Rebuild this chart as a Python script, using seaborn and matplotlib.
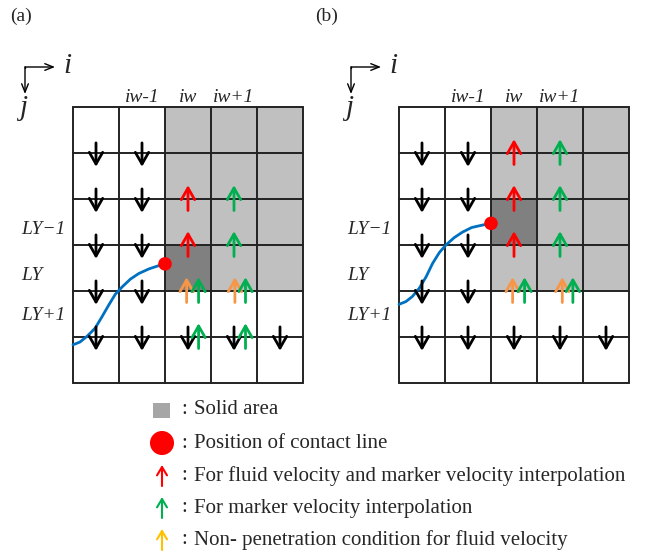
import numpy as np
import pandas as pd
import matplotlib.pyplot as plt
import seaborn as sns
from matplotlib.patches import Rectangle

# grid: 5 columns x 6 rows of square cells, one grid per panel
n_cols, n_rows = 5, 6
cell = 46
origin_x = {'a': 73, 'b': 399}
origin_y = 107

solid_cols = [2, 3, 4]
solid_rows = [0, 1, 2, 3]
dark_cell = {'a': (2, 3), 'b': (2, 2)}

col_labels = ['iw-1', 'iw', 'iw+1']
col_label_pos = [1.5, 2.5, 3.5]
row_labels = ['LY\u22121', 'LY', 'LY+1']
row_label_y = [230, 275, 315]

# contact line shape (cell units)
curve_a_x = [0, 0.15, 0.30, 0.48, 0.63, 0.78, 0.92, 1.07, 1.25, 1.43, 1.65, 1.86, 2.0]
curve_a_y = [5.17, 5.11, 4.99, 4.81, 4.56, 4.30, 4.07, 3.91, 3.74, 3.62, 3.52, 3.45, 3.41]
curve_b_x = [0, 0.15, 0.29, 0.44, 0.59, 0.73, 0.88, 1.02, 1.20, 1.38, 1.58, 1.80, 2.0]
curve_b_y = [4.29, 4.23, 4.12, 3.94, 3.69, 3.40, 3.16, 3.00, 2.84, 2.72, 2.62, 2.57, 2.53]

# velocity arrows: x in cells, grid line index
black_a_x = [0.5] * 5 + [1.5] * 5 + [2.5, 3.5, 4.5]
black_a_line = [1, 2, 3, 4, 5] * 2 + [5, 5, 5]
red_a_x = [2.5, 2.5]
red_a_line = [2, 3]
green_a_x = [3.5, 3.5, 2.73, 3.75, 2.73, 3.75]
green_a_line = [2, 3, 4, 4, 5, 5]
orange_a_x = [2.47, 3.52]
orange_a_line = [4, 4]

black_b_x = [0.5] * 5 + [1.5] * 5 + [2.5, 3.5, 4.5]
black_b_line = [1, 2, 3, 4, 5] * 2 + [5, 5, 5]
red_b_x = [2.5, 2.5, 2.5]
red_b_line = [1, 2, 3]
green_b_x = [3.5, 3.5, 3.5, 2.73, 3.78]
green_b_line = [1, 2, 3, 4, 4]
orange_b_x = [2.47, 3.55]
orange_b_line = [4, 4]

legend_texts = ['Solid area', 'Position of contact line',
                'For fluid velocity and marker velocity interpolation',
                'For marker velocity interpolation',
                'Non- penetration condition for fluid velocity']
legend_y = [410, 443, 476, 508, 540]

RED = '#FF0000'
GREEN = '#00B050'
ORANGE = '#F79646'
GOLD = '#FFC000'
BLUE = '#0070C0'

sns.set_theme(style='white')
plt.rcParams['font.family'] = ['Liberation Serif', 'DejaVu Serif']

fig = plt.figure(figsize=(6.45, 5.56), dpi=100)
ax = fig.add_axes([0, 0, 1, 1])
ax.set_xlim(0, 645)
ax.set_ylim(556, 0)
ax.axis('off')


def arrow(x0, y0, x1, y1, color, lw=2.0, hl=0.7, hw=0.4):
    ax.annotate('', xy=(x1, y1), xytext=(x0, y0),
                arrowprops=dict(arrowstyle='->,head_length=%s,head_width=%s' % (hl, hw),
                                color=color, lw=lw, shrinkA=0, shrinkB=0))


def panel(key, curve_x, curve_y, black, red, green, orange, tag):
    ox = origin_x[key]
    px = lambda c: ox + c * cell
    py = lambda r: origin_y + r * cell

    for c in solid_cols:
        for r in solid_rows:
            ax.add_patch(Rectangle((px(c), py(r)), cell, cell, color='#C0C0C0', lw=0))
    dc, dr = dark_cell[key]
    ax.add_patch(Rectangle((px(dc), py(dr)), cell, cell, color='#808080', lw=0))

    for c in range(n_cols + 1):
        ax.plot([px(c), px(c)], [py(0), py(n_rows)], color='#222222', lw=1.4)
    for r in range(n_rows + 1):
        ax.plot([px(0), px(n_cols)], [py(r), py(r)], color='#222222', lw=1.4)

    df = pd.DataFrame({'x': [px(v) for v in curve_x], 'y': [py(v) for v in curve_y]})
    sns.lineplot(data=df, x='x', y='y', sort=False, color=BLUE, lw=2, ax=ax)
    sns.scatterplot(x=[df['x'].iloc[-1]], y=[df['y'].iloc[-1]], color=RED, s=95,
                    edgecolor='none', ax=ax, zorder=5)

    for x, ln in zip(*black):
        arrow(px(x), py(ln - 0.22), px(x), py(ln + 0.3), 'black')
    for (xs, ls), col in [(red, RED), (orange, ORANGE), (green, GREEN)]:
        for x, ln in zip(xs, ls):
            arrow(px(x), py(ln + 0.25), px(x), py(ln - 0.3), col)

    for lab, c in zip(col_labels, col_label_pos):
        ax.text(px(c), 98, lab, style='italic', fontsize=14, ha='center', va='center')
    for lab, y in zip(row_labels, row_label_y):
        ax.text(ox - 52, y, lab, style='italic', fontsize=14, ha='left', va='center')

    # i / j direction indicator
    cx = ox - 48
    arrow(cx, 67, cx + 30, 67, 'black', lw=1.0, hl=0.5, hw=0.2)
    arrow(cx, 67, cx, 94, 'black', lw=1.0, hl=0.5, hw=0.2)
    ax.plot([cx, cx], [66.5, 67.5], color='black', lw=1)
    ax.text(cx + 42, 66, 'i', style='italic', fontsize=21, ha='center', va='center')
    ax.text(cx - 2, 108, 'j', style='italic', fontsize=21, ha='center', va='center')

    ax.text(ox - 63 if key == 'a' else ox - 84, 16, tag, fontsize=14, ha='left', va='center')


panel('a', curve_a_x, curve_a_y, (black_a_x, black_a_line), (red_a_x, red_a_line),
      (green_a_x, green_a_line), (orange_a_x, orange_a_line), '(a)')
panel('b', curve_b_x, curve_b_y, (black_b_x, black_b_line), (red_b_x, red_b_line),
      (green_b_x, green_b_line), (orange_b_x, orange_b_line), '(b)')

# legend
ax.add_patch(Rectangle((153, 403), 17, 15, color='#A6A6A6', lw=0))
sns.scatterplot(x=[162], y=[legend_y[1]], color=RED, s=300, edgecolor='none', ax=ax)
for y, col in zip(legend_y[2:], [RED, GREEN, GOLD]):
    arrow(162, y + 10, 162, y - 11, col, lw=1.5, hl=0.5, hw=0.3)
for y, t in zip(legend_y, legend_texts):
    ax.text(181, y, ':', fontsize=15, ha='left', va='center')
    ax.text(194, y, t, fontsize=15, ha='left', va='center')

fig.savefig('out.png', dpi=100)
